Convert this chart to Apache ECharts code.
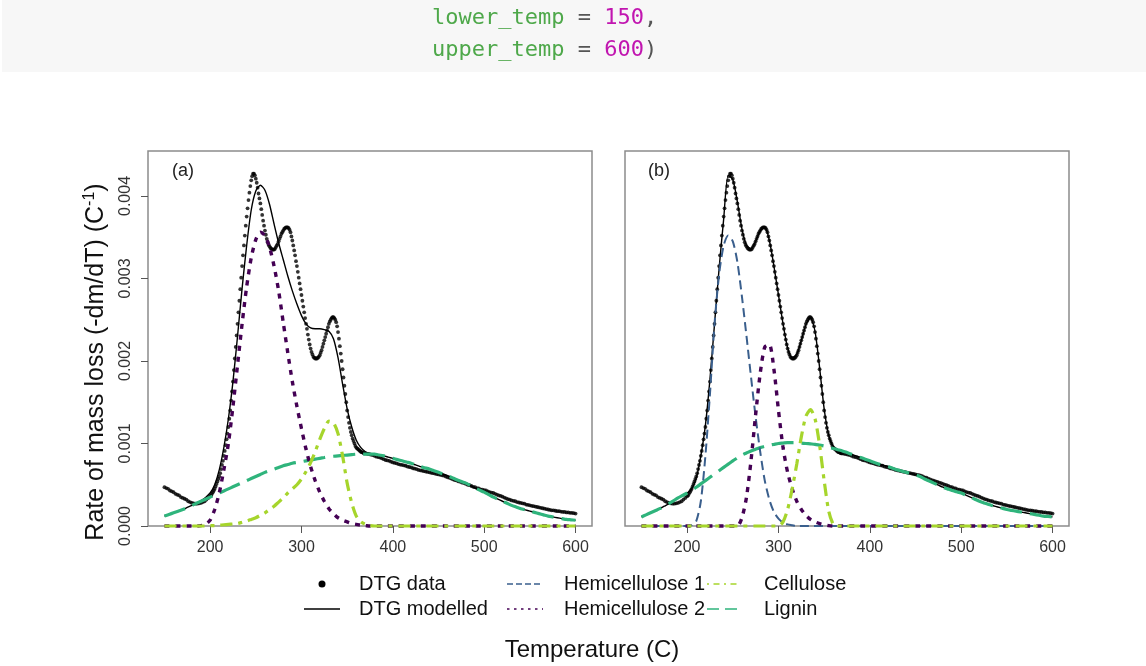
<!DOCTYPE html>
<html><head><meta charset="utf-8">
<script src="https://cdn.jsdelivr.net/npm/echarts@6/dist/echarts.min.js"></script>
<style>html,body{margin:0;padding:0;background:#fff}#c{width:1146px;height:666px}</style>
</head><body><div id="c"></div>
<script>
// ---------- DATA (rates in units of 0.001 C^-1) ----------
const xTicks = [200, 300, 400, 500, 600];
const yTicks = [0, 1, 2, 3, 4];

// DTG measured data: three segments (start, step)
const dtgLowStart = 150, dtgLowStep = 2;
const dtgLow = [0.47,0.46,0.45,0.43,0.42,0.41,0.39,0.38,0.37,0.35,0.34,0.33,0.32,0.30,0.29,0.28,0.275,0.27,0.27,0.275,0.28,0.29,0.30,0.32,0.34];
const dtgMidStart = 200, dtgMidStep = 1;
const dtgMid = [
0.36,0.37,0.39,0.41,0.43,0.45,0.48,0.51,0.54,0.57,
0.60,0.64,0.69,0.74,0.79,0.85,0.91,0.98,1.05,1.12,
1.20,1.30,1.40,1.52,1.63,1.75,1.89,2.03,2.17,2.31,
2.45,2.59,2.73,2.87,3.01,3.15,3.28,3.40,3.52,3.64,
3.75,3.85,3.95,4.04,4.12,4.19,4.24,4.27,4.27,4.25,
4.21,4.16,4.10,4.03,3.97,3.91,3.84,3.77,3.70,3.64,
3.58,3.53,3.48,3.44,3.41,3.39,3.37,3.36,3.35,3.35,
3.35,3.36,3.38,3.40,3.42,3.45,3.48,3.51,3.54,3.56,
3.58,3.60,3.61,3.62,3.62,3.62,3.61,3.59,3.56,3.51,
3.46,3.40,3.34,3.28,3.21,3.15,3.08,3.01,2.94,2.87,
2.80,2.73,2.66,2.59,2.52,2.45,2.39,2.32,2.26,2.20,
2.15,2.11,2.08,2.05,2.04,2.03,2.03,2.03,2.04,2.05,
2.07,2.10,2.13,2.17,2.21,2.25,2.29,2.33,2.37,2.41,
2.45,2.48,2.50,2.52,2.53,2.53,2.52,2.50,2.47,2.42,
2.35,2.27,2.18,2.09,2.00,1.90,1.80,1.70,1.60,1.50,
1.40,1.32,1.25,1.19,1.14,1.10,1.06,1.03,1.00,0.97,
0.95,0.94,0.93,0.92,0.91,0.90,0.895,0.89,0.885,0.88,
0.88];
const dtgHighStart = 372, dtgHighStep = 2;
const dtgHigh = [
0.875,0.87,0.865,0.86,0.85,0.84,0.835,0.83,0.82,0.81,
0.80,0.795,0.79,0.78,0.77,0.765,0.76,0.75,0.745,0.74,
0.735,0.73,0.72,0.715,0.71,0.70,0.695,0.69,0.68,0.675,
0.67,0.665,0.66,0.655,0.65,0.645,0.64,0.635,0.63,0.625,
0.62,0.615,0.61,0.60,0.59,0.585,0.575,0.565,0.555,0.55,
0.54,0.535,0.525,0.52,0.51,0.50,0.495,0.485,0.475,0.47,
0.46,0.455,0.445,0.44,0.435,0.43,0.42,0.41,0.405,0.40,
0.39,0.38,0.37,0.365,0.355,0.345,0.335,0.325,0.32,0.31,
0.305,0.30,0.29,0.285,0.28,0.275,0.27,0.26,0.255,0.25,
0.245,0.24,0.235,0.23,0.225,0.22,0.215,0.21,0.205,0.20,
0.195,0.19,0.19,0.185,0.18,0.18,0.175,0.17,0.17,0.165,
0.165,0.16,0.16,0.155,0.15];

// Fitted curves, sampled every 5 C from 150 to 600
const curveTemps = [150,155,160,165,170,175,180,185,190,195,200,205,210,215,220,225,230,235,240,245,250,255,260,265,270,275,280,285,290,295,300,305,310,315,320,325,330,335,340,345,350,355,360,365,370,375,380,385,390,395,400,405,410,415,420,425,430,435,440,445,450,455,460,465,470,475,480,485,490,495,500,505,510,515,520,525,530,535,540,545,550,555,560,565,570,575,580,585,590,595,600];

// Panel (a)
const modelA = [0.12,0.14,0.16,0.18,0.20,0.225,0.25,0.275,0.305,0.345,
0.40,0.50,0.68,0.95,1.30,1.75,2.30,2.88,3.40,3.83,
4.06,4.13,4.07,3.90,3.66,3.43,3.23,3.03,2.85,2.69,
2.55,2.45,2.40,2.39,2.39,2.38,2.36,2.27,2.04,1.72,
1.42,1.20,1.04,0.95,0.90,0.88,0.87,0.86,0.85,0.835,
0.82,0.805,0.79,0.775,0.76,0.74,0.72,0.705,0.69,0.67,
0.65,0.63,0.61,0.585,0.56,0.54,0.52,0.49,0.46,0.435,
0.41,0.38,0.35,0.325,0.30,0.275,0.25,0.23,0.21,0.195,
0.18,0.165,0.15,0.135,0.12,0.11,0.10,0.09,0.08,0.075,0.07];
const hemi2A = [0,0,0,0,0,0,0,0,0.005,0.02,
0.07,0.2,0.4,0.68,1.0,1.45,1.95,2.45,2.9,3.25,
3.47,3.56,3.52,3.38,3.15,2.85,2.47,2.1,1.75,1.45,
1.18,0.93,0.72,0.55,0.41,0.3,0.21,0.15,0.1,0.07,
0.05,0.03,0.02,0.01,0.005,0,0,0,0,0,
0,0,0,0,0,0,0,0,0,0,
0,0,0,0,0,0,0,0,0,0,
0,0,0,0,0,0,0,0,0,0,
0,0,0,0,0,0,0,0,0,0,0];
const celluloseA = [0,0,0,0,0,0,0,0,0,0,
0.005,0.005,0.01,0.015,0.02,0.025,0.03,0.045,0.06,0.08,
0.1,0.13,0.16,0.2,0.24,0.29,0.34,0.4,0.45,0.5,
0.57,0.66,0.77,0.9,1.05,1.18,1.27,1.25,1.12,0.85,
0.52,0.28,0.12,0.05,0.02,0.005,0,0,0,0,
0,0,0,0,0,0,0,0,0,0,
0,0,0,0,0,0,0,0,0,0,
0,0,0,0,0,0,0,0,0,0,
0,0,0,0,0,0,0,0,0,0,0];
const ligninA = [0.12,0.14,0.16,0.18,0.2,0.225,0.25,0.275,0.3,0.325,
0.35,0.375,0.4,0.425,0.45,0.475,0.5,0.525,0.55,0.575,
0.6,0.625,0.65,0.67,0.69,0.71,0.73,0.745,0.76,0.77,
0.78,0.79,0.8,0.81,0.82,0.83,0.84,0.845,0.85,0.855,
0.86,0.865,0.87,0.87,0.87,0.87,0.87,0.86,0.85,0.835,
0.82,0.805,0.79,0.775,0.76,0.74,0.72,0.705,0.69,0.67,
0.65,0.63,0.61,0.585,0.56,0.54,0.52,0.49,0.46,0.435,
0.41,0.38,0.35,0.325,0.3,0.275,0.25,0.23,0.21,0.195,
0.18,0.165,0.15,0.135,0.12,0.11,0.1,0.09,0.08,0.075,0.07];

// Panel (b)
const modelB = [0.11,0.135,0.16,0.185,0.21,0.24,0.27,0.305,0.34,0.37,
0.40,0.45,0.58,0.85,1.22,1.78,2.45,3.12,3.72,4.25,
4.20,3.93,3.60,3.40,3.36,3.45,3.58,3.62,3.46,3.15,
2.80,2.45,2.16,2.04,2.08,2.25,2.44,2.52,2.36,1.92,
1.42,1.10,0.96,0.925,0.91,0.89,0.87,0.85,0.83,0.81,
0.79,0.77,0.75,0.735,0.72,0.70,0.68,0.665,0.65,0.635,
0.62,0.60,0.57,0.545,0.52,0.495,0.47,0.45,0.43,0.415,
0.40,0.375,0.35,0.325,0.30,0.28,0.26,0.245,0.23,0.215,
0.20,0.19,0.18,0.17,0.16,0.15,0.14,0.13,0.12,0.115,0.11];
const hemi1B = [0,0,0,0,0,0,0,0,0,0,
0,0.01,0.06,0.3,0.85,1.6,2.45,3.05,3.4,3.52,
3.45,3.2,2.78,2.3,1.8,1.32,0.9,0.55,0.32,0.17,
0.09,0.04,0.02,0.01,0,0,0,0,0,0,
0,0,0,0,0,0,0,0,0,0,
0,0,0,0,0,0,0,0,0,0,
0,0,0,0,0,0,0,0,0,0,
0,0,0,0,0,0,0,0,0,0,
0,0,0,0,0,0,0,0,0,0,0];
const hemi2B = [0,0,0,0,0,0,0,0,0,0,
0,0,0,0,0,0,0,0,0,0,
0,0,0.1,0.35,0.8,1.35,1.85,2.17,2.2,1.9,
1.4,0.95,0.65,0.45,0.3,0.2,0.13,0.08,0.05,0.03,
0.015,0.005,0,0,0,0,0,0,0,0,
0,0,0,0,0,0,0,0,0,0,
0,0,0,0,0,0,0,0,0,0,
0,0,0,0,0,0,0,0,0,0,
0,0,0,0,0,0,0,0,0,0,0];
const celluloseB = [0,0,0,0,0,0,0,0,0,0,
0,0,0,0,0,0,0,0,0,0,
0,0,0,0,0,0,0,0,0,0,
0,0.05,0.2,0.45,0.75,1.08,1.33,1.41,1.3,0.98,
0.55,0.18,0.02,0,0,0,0,0,0,0,
0,0,0,0,0,0,0,0,0,0,
0,0,0,0,0,0,0,0,0,0,
0,0,0,0,0,0,0,0,0,0,
0,0,0,0,0,0,0,0,0,0,0];
const ligninB = [0.11,0.135,0.16,0.185,0.21,0.24,0.27,0.305,0.34,0.37,
0.40,0.435,0.47,0.51,0.55,0.59,0.63,0.67,0.71,0.75,
0.79,0.825,0.86,0.885,0.91,0.93,0.95,0.965,0.98,0.99,
1.0,1.005,1.01,1.01,1.01,1.005,1.0,0.995,0.99,0.98,
0.97,0.955,0.94,0.925,0.91,0.89,0.87,0.85,0.83,0.81,
0.79,0.77,0.75,0.735,0.72,0.70,0.68,0.665,0.65,0.635,
0.62,0.60,0.57,0.545,0.52,0.495,0.47,0.45,0.43,0.415,
0.40,0.375,0.35,0.325,0.30,0.28,0.26,0.245,0.23,0.215,
0.20,0.19,0.18,0.17,0.16,0.15,0.14,0.13,0.12,0.115,0.11];

const legendLabels = ['DTG data','DTG modelled','Hemicellulose 1','Hemicellulose 2','Cellulose','Lignin'];

// ---------- BUILD ----------
const FONT = "'Liberation Sans', Arial, Helvetica, sans-serif";
const C = {hemi1:'#3A5F8D', hemi2:'#440154', cell:'#A6D52C', lig:'#2FB47C', box:'#8c8c8c'};

function seg(start, step, vals){ return vals.map((v,i)=>[start+i*step, v]); }
const dtgData = seg(dtgLowStart,dtgLowStep,dtgLow).concat(seg(dtgMidStart,dtgMidStep,dtgMid), seg(dtgHighStart,dtgHighStep,dtgHigh));
function pairs(vals){ return curveTemps.map((t,i)=>[t, vals[i]]); }

const grids = [
  {left:148, top:151, width:444, height:375},
  {left:625, top:151, width:444, height:375}
].map(g=>Object.assign(g,{show:true, borderColor:C.box, borderWidth:1.5, backgroundColor:'transparent', containLabel:false}));

function xAxis(gi){
  return {type:'value', gridIndex:gi, min:132, max:618,
    axisLine:{show:false}, splitLine:{show:false},
    axisTick:{show:true, length:7, customValues:xTicks, lineStyle:{color:'#555', width:1}},
    axisLabel:{customValues:xTicks, fontSize:16, color:'#333', margin:14, fontFamily:FONT}};
}
function yAxis(gi, showLab){
  return {type:'value', gridIndex:gi, min:0, max:4.545,
    axisLine:{show:false}, splitLine:{show:false},
    axisTick:{show:showLab, length:7, customValues:yTicks, lineStyle:{color:'#555', width:1}},
    axisLabel:{show:showLab, customValues:yTicks, rotate:90, fontSize:16, color:'#333', margin:14, fontFamily:FONT,
      formatter:v=>(v/1000).toFixed(3)}};
}

function scatter(gi){
  return {type:'scatter', xAxisIndex:gi, yAxisIndex:gi, data:dtgData, symbolSize:3.8,
    itemStyle:{color:'#000'}, silent:true, z:2};
}
function line(gi, vals, color, width, dash, z){
  return {type:'line', xAxisIndex:gi, yAxisIndex:gi, data:pairs(vals), showSymbol:false, symbol:'none',
    smooth:0.25, clip:false, silent:true, z:z||3,
    lineStyle:{color:color, width:width, type:dash||'solid', cap:'butt'}};
}

const series = [
  scatter(0),
  line(0, modelA, '#000', 1.4, 'solid', 3),
  line(0, ligninA, C.lig, 3.2, [22,8], 4),
  line(0, hemi2A, C.hemi2, 3.4, [5,6], 4),
  line(0, celluloseA, C.cell, 3.2, [12,6,4,6], 4),
  scatter(1),
  line(1, modelB, '#000', 1.4, 'solid', 3),
  line(1, ligninB, C.lig, 3.2, [22,8], 4),
  line(1, hemi1B, C.hemi1, 2.0, [9,5], 4),
  line(1, hemi2B, C.hemi2, 3.4, [5,6], 4),
  line(1, celluloseB, C.cell, 3.2, [12,6,4,6], 4)
];

// legend & texts as graphic elements
const gr = [];
gr.push({type:'rect', shape:{x:2, y:0, width:1146, height:72}, style:{fill:'#f7f7f7'}, silent:true});
const mono = "'DejaVu Sans Mono', 'Liberation Mono', monospace";
const codeRich = {g:{fill:'#4ea84a', fontFamily:mono, fontSize:22}, n:{fill:'#c116b0', fontFamily:mono, fontSize:22}, p:{fill:'#555', fontFamily:mono, fontSize:22}};
gr.push({type:'text', x:432, y:18, silent:true, style:{text:'{g|lower_temp}{p| = }{n|150}{p|,}', rich:codeRich, verticalAlign:'middle', align:'left'}});
gr.push({type:'text', x:432, y:50, silent:true, style:{text:'{g|upper_temp}{p| = }{n|600}{p|)}', rich:codeRich, verticalAlign:'middle', align:'left'}});

gr.push({type:'text', x:172, y:171, silent:true, style:{text:'(a)', font:'18px '+FONT, fill:'#222', verticalAlign:'middle'}});
gr.push({type:'text', x:648, y:171, silent:true, style:{text:'(b)', font:'18px '+FONT, fill:'#222', verticalAlign:'middle'}});

gr.push({type:'text', x:96, y:362, rotation:Math.PI/2, silent:true,
  style:{text:'{a|Rate of mass loss (-dm/dT) (C}{s|-1}{a|)}', align:'center', verticalAlign:'middle',
    rich:{a:{fontSize:25, fontFamily:FONT, fill:'#111', lineHeight:29}, s:{fontSize:16, fontFamily:FONT, fill:'#111', lineHeight:16, verticalAlign:'top'}}}});
gr.push({type:'text', x:592, y:650, silent:true, style:{text:'Temperature (C)', font:'24px '+FONT, fill:'#111', align:'center', verticalAlign:'middle'}});

// legend
const r1 = 584, r2 = 609;
gr.push({type:'circle', shape:{cx:322, cy:r1, r:3.5}, style:{fill:'#000'}, silent:true});
gr.push({type:'line', shape:{x1:304, y1:r2, x2:340, y2:r2}, style:{stroke:'#000', lineWidth:1.5}, silent:true});
gr.push({type:'line', shape:{x1:507, y1:r1, x2:543, y2:r1}, style:{stroke:C.hemi1, lineWidth:1.5, lineDash:[6,3]}, silent:true});
gr.push({type:'line', shape:{x1:507, y1:r2, x2:543, y2:r2}, style:{stroke:C.hemi2, lineWidth:1.5, lineDash:[2.5,4.5]}, silent:true});
gr.push({type:'line', shape:{x1:707, y1:r1, x2:740, y2:r1}, style:{stroke:C.cell, lineWidth:1.5, lineDash:[2,4.5,6,4.5]}, silent:true});
gr.push({type:'line', shape:{x1:707, y1:r2, x2:740, y2:r2}, style:{stroke:C.lig, lineWidth:1.5, lineDash:[12,6]}, silent:true});
const legPos = [[359,r1],[359,r2],[564,r1],[564,r2],[764,r1],[764,r2]];
legendLabels.forEach((t,i)=>{
  gr.push({type:'text', x:legPos[i][0], y:legPos[i][1], silent:true, style:{text:t, font:'20px '+FONT, fill:'#111', verticalAlign:'middle', align:'left'}});
});

const chart = echarts.init(document.getElementById('c'), null, {renderer:'canvas'});
chart.setOption({
  animation:false,
  backgroundColor:'#fff',
  grid:grids,
  xAxis:[xAxis(0), xAxis(1)],
  yAxis:[yAxis(0,true), yAxis(1,false)],
  series:series,
  graphic:gr
});
</script></body></html>
